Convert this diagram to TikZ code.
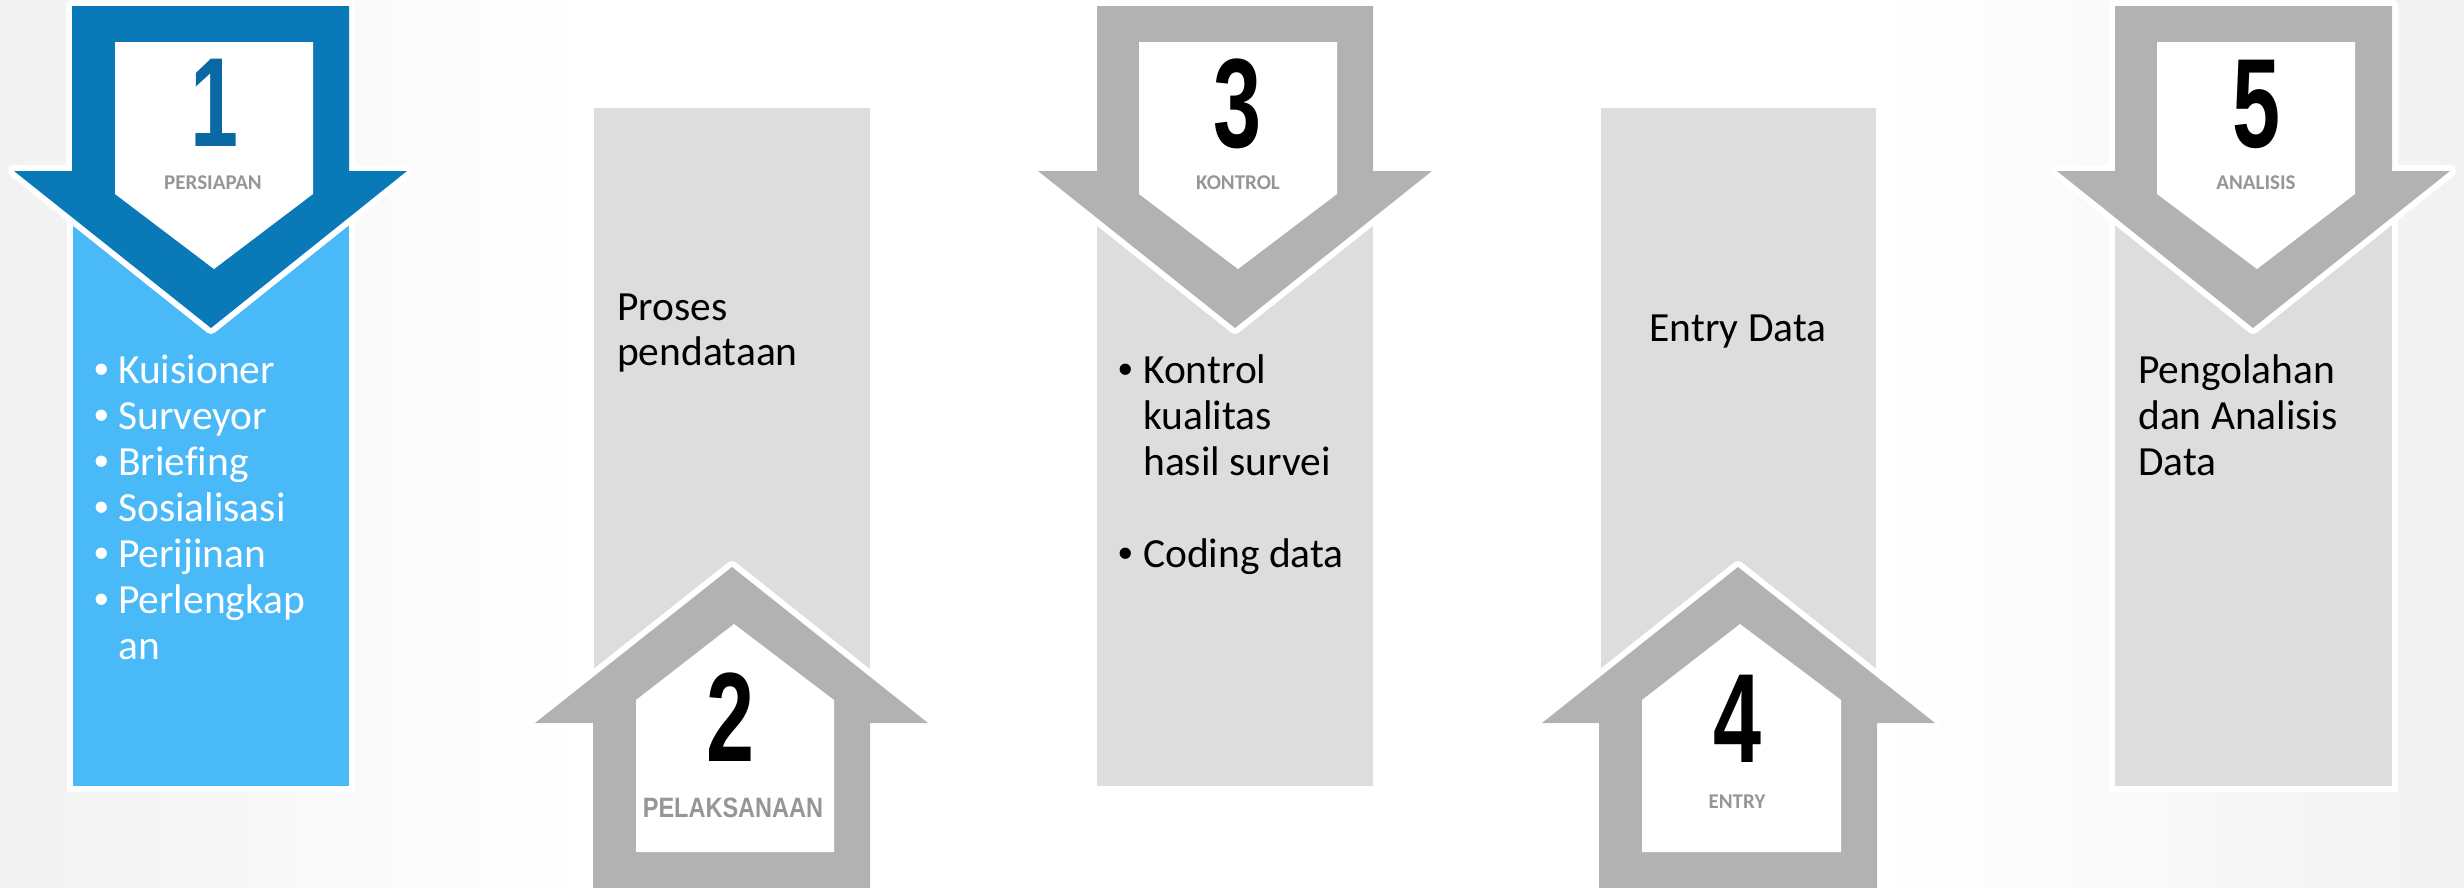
\documentclass[tikz,border=0pt]{standalone}
\usepackage{fontspec}
\setmainfont{Carlito}[Ligatures=NoCommon]
\newfontfamily\arialfont{Liberation Sans}
\definecolor{darkblue}{HTML}{0A79B8}
\definecolor{lightblue}{HTML}{49B9F8}
\definecolor{numblue}{HTML}{0A69A5}
\definecolor{arrowgray}{HTML}{B2B2B2}
\definecolor{rectgray}{HTML}{DDDDDD}
\definecolor{labgray}{HTML}{969696}
\definecolor{bggray}{HTML}{F2F2F2}
\pgfdeclarehorizontalshading{bgshade}{100bp}{color(0bp)=(bggray); color(25bp)=(bggray); color(37bp)=(white); color(63bp)=(white); color(75bp)=(bggray); color(100bp)=(bggray)}
\newcommand\bodyfont{\fontsize{41.5}{46}\selectfont}
\newcommand\labfont{\bfseries\fontsize{21}{21}\selectfont}
\newcommand\numfnt{\arialfont\bfseries\fontsize{127}{127}\selectfont}
\begin{document}
\begin{tikzpicture}[x=1pt,y=-1pt,
  halo/.style={draw=white, line width=12pt, line join=round},
  frame/.style={fill=white},
  body/.style={font=\bodyfont, anchor=base west, inner sep=0pt},
  bul/.style={font=\arialfont\bodyfont, anchor=base west, inner sep=0pt},
  cbody/.style={font=\bodyfont, anchor=base, inner sep=0pt},
  lab/.style={font=\labfont, text=labgray, anchor=base, inner sep=0pt},
  num/.style={font=\numfnt, anchor=base, inner sep=0pt},
]
\useasboundingbox (0,0) rectangle (2464,887);
\shade[shading=bgshade] (0,0) rectangle (2464,887);

% ---------- rectangles ----------
\fill[frame] (67,194) rectangle (355,792);
\fill[lightblue] (73,200) rectangle (349,786);
\fill[frame] (588,102) rectangle (876,887);
\fill[rectgray] (594,108) rectangle (870,887);
\fill[frame] (1091,194) rectangle (1379,792);
\fill[rectgray] (1097,200) rectangle (1373,786);
\fill[frame] (1595,102) rectangle (1882,887);
\fill[rectgray] (1601,108) rectangle (1876,887);
\fill[frame] (2109,194) rectangle (2398,792);
\fill[rectgray] (2115,200) rectangle (2392,786);

% ---------- arrows ----------
% 1 (down, blue)
\fill[darkblue, preaction={halo}] (72,6) -- (349,6) -- (349,171) -- (407,171) -- (211,328) -- (14,171) -- (72,171) -- cycle;
\fill[white] (115,42) -- (313,42) -- (313,194) -- (214,269) -- (115,194) -- cycle;
% 2 (up)
\fill[arrowgray, preaction={halo}] (593,900) -- (593,723) -- (535,723) -- (732,567) -- (928,723) -- (870,723) -- (870,900) -- cycle;
\fill[white] (636,852) -- (636,700) -- (734,624) -- (834,700) -- (834,852) -- cycle;
% 3 (down)
\fill[arrowgray, preaction={halo}] (1097,6) -- (1373,6) -- (1373,171) -- (1432,171) -- (1235,328) -- (1038,171) -- (1097,171) -- cycle;
\fill[white] (1139,42) -- (1337,42) -- (1337,194) -- (1238,269) -- (1139,194) -- cycle;
% 4 (up)
\fill[arrowgray, preaction={halo}] (1599,900) -- (1599,723) -- (1542,723) -- (1738,567) -- (1935,723) -- (1877,723) -- (1877,900) -- cycle;
\fill[white] (1642,852) -- (1642,700) -- (1740,624) -- (1841,700) -- (1841,852) -- cycle;
% 5 (down)
\fill[arrowgray, preaction={halo}] (2115,6) -- (2392,6) -- (2392,171) -- (2450,171) -- (2253,328) -- (2057,171) -- (2115,171) -- cycle;
\fill[white] (2157,42) -- (2355,42) -- (2355,194) -- (2257,269) -- (2157,194) -- cycle;

% ---------- numbers and labels ----------
\node[num, text=numblue] (n1) at (215,146) {\scalebox{0.68}[1]{1}};
\node[lab] (l1) at (213,189) {PERSIAPAN};
\node[num] (n2) at (731,761) {\scalebox{0.68}[1]{2}};
\node[anchor=base, inner sep=0pt, text=labgray, font=\arialfont\bfseries\fontsize{28}{28}\selectfont] (l2) at (733,817) {\scalebox{0.84}[1]{PELAKSANAAN}};
\node[num] (n3) at (1237,147) {\scalebox{0.68}[1]{3}};
\node[lab] (l3) at (1238,189) {KONTROL};
\node[num] (n4) at (1737,762) {\scalebox{0.68}[1]{4}};
\node[lab] (l4) at (1737,808) {ENTRY};
\node[num] (n5) at (2256,147) {\scalebox{0.68}[1]{5}};
\node[lab] (l5) at (2256,189) {ANALISIS};

% ---------- body text ----------
\begin{scope}[every node/.append style={text=white}]
\node[bul] (b1a) at (94,383) {•};
\node[body] (t1a) at (118,383) {Kuisioner};
\node[bul] (b1b) at (94,429) {•};
\node[body] (t1b) at (118,429) {Surveyor};
\node[bul] (b1c) at (94,475) {•};
\node[body] (t1c) at (118,475) {Briefing};
\node[bul] (b1d) at (94,521) {•};
\node[body] (t1d) at (118,521) {Sosialisasi};
\node[bul] (b1e) at (94,567) {•};
\node[body] (t1e) at (118,567) {Perijinan};
\node[bul] (b1f) at (94,613) {•};
\node[body] (t1f) at (118,613) {Perlengkap};
\node[body] (t1g) at (118,659) {an};
\end{scope}

\node[body] (t2a) at (617,320) {Proses};
\node[body] (t2b) at (617,365) {pendataan};

\node[bul] (b3a) at (1118,383) {•};
\node[body] (t3a) at (1143,383) {Kontrol};
\node[body] (t3b) at (1143,429) {kualitas};
\node[body] (t3c) at (1143,475) {hasil survei};
\node[bul] (b3b) at (1118,567) {•};
\node[body] (t3d) at (1143,567) {Coding data};

\node[cbody] (t4) at (1738,341) {Entry Data};

\node[body] (t5a) at (2138,383) {Pengolahan};
\node[body] (t5b) at (2138,429) {dan Analisis};
\node[body] (t5c) at (2138,475) {Data};
\end{tikzpicture}
\end{document}
